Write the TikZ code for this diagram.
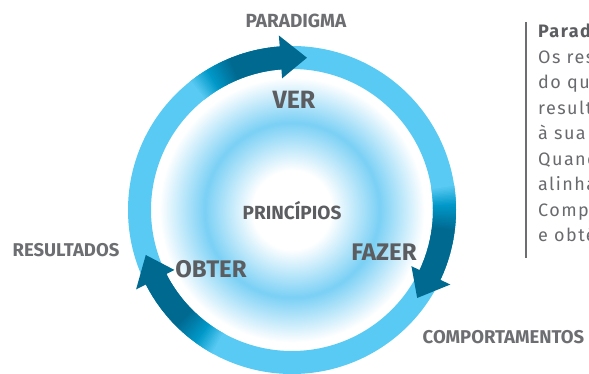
\documentclass[tikz,border=0pt]{standalone}
\usepackage{fontspec}
\setmainfont{Fira Sans}
\newfontfamily\bodyfont[LetterSpace=8]{Fira Sans}
\usetikzlibrary{calc}
\definecolor{ringlight}{RGB}{88,202,243}
\definecolor{ringmid}{RGB}{0,152,200}
\definecolor{ringdark}{RGB}{0,105,144}
\definecolor{glowblue}{RGB}{122,208,245}
\definecolor{labgray}{RGB}{92,93,96}
\definecolor{outgray}{RGB}{109,110,113}
\definecolor{bodygray}{RGB}{105,106,110}
\pgfdeclareradialshading{innerglow}{\pgfpoint{0bp}{0bp}}{color(0bp)=(white); color(7bp)=(white); color(15.5bp)=(glowblue); color(23.5bp)=(white); color(25bp)=(white); color(50bp)=(white)}
\newcommand{\fsz}[1]{\fontsize{#1}{#1}\selectfont}
\tikzset{
  lab/.style={anchor=base, inner sep=0pt, text=labgray, font=\bfseries\fsz{#1}},
  outlab/.style={anchor=base, inner sep=0pt, text=outgray, font=\bfseries\fsz{#1}},
  bodyline/.style={anchor=base west, inner sep=0pt, text=bodygray, font=\bodyfont\fsz{18}},
  rulebar/.style={draw=outgray, line width=1.3pt}
}
\begin{document}
\begin{tikzpicture}[x=1pt,y=1pt]
\path[use as bounding box] (0,0) rectangle (589,-374);
\clip (0,0) rectangle (589,-374);
\coordinate (C) at (292,-210);
% inner glow
\shade[shading=innerglow] (C) circle[radius=141pt];
% light ring
\fill[ringlight, even odd rule] (C) circle[radius=164pt] (C) circle[radius=141pt];
% three gradient arrows
\foreach \B in {94,-25.5,206.7} {
  \foreach \d in {0,0.5,...,34} {
    \pgfmathsetmacro\pa{int(max(0,min(100,100*(27-\d)/9)))}
    \pgfmathsetmacro\pb{int(max(0,min(100,100*(34-\d)/7)))}
    \colorlet{segtmp}{ringmid!\pb!ringlight}
    \colorlet{segcol}{ringdark!\pa!segtmp}
    \pgfmathsetmacro\aa{\B+\d}
    \pgfmathsetmacro\ab{\B+\d+0.8}
    \fill[segcol] ([shift={(C)}]\aa:141pt) arc[start angle=\aa, end angle=\ab, radius=141pt]
      -- ([shift={(C)}]\ab:164pt) arc[start angle=\ab, end angle=\aa, radius=164pt] -- cycle;
  }
  \pgfmathsetmacro\hb{\B+0.3}
  \pgfmathsetmacro\ht{\B-9.6}
  \fill[ringdark] ([shift={(C)}]\hb:132pt) -- ([shift={(C)}]\hb:175pt) -- ([shift={(C)}]\ht:153pt) -- cycle;
}
% labels
\node[outlab=19] (paradigma) at (296,-28) {PARADIGMA};
\node[lab=25] (ver) at (294,-109) {VER};
\node[lab=19] (principios) at (292,-220) {PRINCÍPIOS};
\node[lab=24] (fazer) at (384,-260) {FAZER};
\node[lab=24] (obter) at (211,-277) {OBTER};
\node[outlab=18.5] (resultados) at (66,-256) {RESULTADOS};
\node[outlab=18.5] (comport) at (503.5,-343) {COMPORTAMENTOS};
% side text
\coordinate (rtop) at (526,-22);
\coordinate (rbot) at (526,-258);
\draw[rulebar] (rtop) -- (rbot);
\node[bodyline, font=\bodyfont\bfseries\fsz{18}, text=labgray] (t1) at (538,-38) {Paradigma};
\node[bodyline] (t2) at (538,-63.5) {Os resultados};
\node[bodyline] (t3) at (538,-89) {do que};
\node[bodyline] (t4) at (538,-114.5) {resultados};
\node[bodyline] (t5) at (538,-140) {à sua};
\node[bodyline] (t6) at (538,-165.5) {Quando};
\node[bodyline] (t7) at (538,-191) {alinhados};
\node[bodyline] (t8) at (538,-216.5) {Comportamentos};
\node[bodyline] (t9) at (538,-242) {e obtém};
\end{tikzpicture}
\end{document}
